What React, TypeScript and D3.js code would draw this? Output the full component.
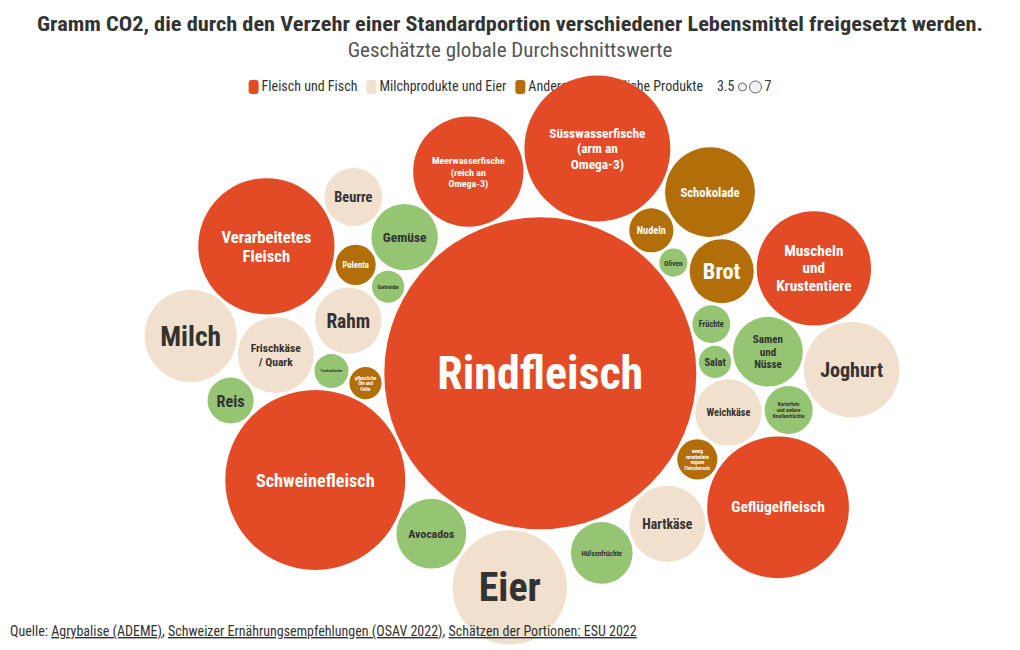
import React, { useMemo } from "react";
import * as d3 from "d3";

const FONT = "'Roboto Condensed', 'Liberation Sans Narrow', 'Arial Narrow', Roboto, sans-serif";

const categories = ["Fleisch und Fisch", "Milchprodukte und Eier", "Andere", "Pflanzliche Produkte"];
const categoryColors = ["#e24b26", "#f0e0cd", "#b26e08", "#95c572"];
const labelColors = ["#ffffff", "#333333", "#ffffff", "#333333"];

// order: largest first, then clockwise around it
const foodLabels = [
  "Rindfleisch",
  "Joghurt",
  "Salat",
  "Weichkäse",
  "Geflügelfleisch",
  "wenig\nverarbeitete\nvegane\nFleischersatz",
  "Hartkäse",
  "Hülsenfrüchte",
  "Eier",
  "Avocados",
  "Schweinefleisch",
  "Trockenfrüchte",
  "Rahm",
  "Reis",
  "Milch",
  "pflanzliche\nÖle und\nFette",
  "Getreide",
  "Polenta",
  "Frischkäse\n/ Quark",
  "Verarbeitetes\nFleisch",
  "Gemüse",
  "Beurre",
  "Meerwasserfische\n(reich an\nOmega-3)",
  "Süsswasserfische\n(arm an\nOmega-3)",
  "Nudeln",
  "Schokolade",
  "Oliven",
  "Brot",
  "Muscheln\nund\nKrustentiere",
  "Früchte",
  "Samen\nund\nNüsse",
  "Kartoffeln\nund andere\nKnollenfrüchte",
];
const foodCategory = [
  0, 1, 3, 1, 0, 2, 1, 3, 1, 3, 0, 3, 1, 3, 1, 2, 3, 2, 1, 0, 3, 1, 0, 0, 2, 2, 3, 2, 0, 3, 3, 3,
];
const foodValues = [
  3200, 300, 34, 145, 660, 53, 190, 125, 430, 160, 1065, 38, 145, 70, 280, 34, 34, 53, 190, 610, 145, 110,
  400, 700, 64, 265, 26, 135, 430, 47, 160, 76,
];

const titleText =
  "Gramm CO2, die durch den Verzehr einer Standardportion verschiedener Lebensmittel freigesetzt werden.";
const subtitleText = "Geschätzte globale Durchschnittswerte";
const sizeLegendLabels = ["3.5", "7"];
const sourcePrefix = "Quelle: ";
const sourceLinks = [
  "Agrybalise (ADEME)",
  "Schweizer Ernährungsempfehlungen (OSAV 2022)",
  "Schätzen der Portionen: ESU 2022",
];

let ctx: CanvasRenderingContext2D | null = null;
function measure(text: string, size: number, weight: string | number = "normal"): number {
  if (!ctx) ctx = document.createElement("canvas").getContext("2d");
  ctx!.font = `${weight} ${size}px ${FONT}`;
  return ctx!.measureText(text).width;
}

const W = 1020;
const H = 650;
const MAX_R = 156;
const CENTER_X = 522;
const CENTER_Y = 360;

type Node = { i: number; r: number; x: number; y: number; vx?: number; vy?: number };

export default function App() {
  const layout = useMemo(() => {
    const rScale = d3.scaleSqrt().domain([0, d3.max(foodValues) as number]).range([0, MAX_R]);
    const nodes: Node[] = foodValues.map((v, i) => ({ i, r: rScale(v), x: 0, y: 0 }));
    const others = nodes.slice(1);
    const sumD = d3.sum(others, (d) => 2 * d.r);
    let cum = 0;
    const offset = (2 * Math.PI * others[0].r) / sumD;
    others.forEach((d) => {
      const a = (2 * Math.PI * (cum + d.r)) / sumD - offset;
      cum += 2 * d.r;
      const dist = nodes[0].r + d.r + 4;
      d.x = dist * Math.cos(a);
      d.y = dist * Math.sin(a);
    });
    const sim = d3
      .forceSimulation(nodes as any)
      .alphaDecay(0.01)
      .velocityDecay(0.3)
      .force("collide", d3.forceCollide((d: any) => d.r + 1.5).strength(1).iterations(6))
      .force("x", d3.forceX(0).strength(0.06))
      .force("y", d3.forceY(0).strength(0.14))
      .stop();
    for (let k = 0; k < 900; k++) sim.tick();
    const x0 = d3.min(nodes, (d) => d.x - d.r) as number;
    const x1 = d3.max(nodes, (d) => d.x + d.r) as number;
    const y0 = d3.min(nodes, (d) => d.y - d.r) as number;
    const y1 = d3.max(nodes, (d) => d.y + d.r) as number;
    const dx = CENTER_X - (x0 + x1) / 2;
    const dy = CENTER_Y - (y0 + y1) / 2;
    return nodes.map((d) => {
      const lines = foodLabels[d.i].split("\n");
      const maxW = d3.max(lines, (l) => measure(l, 10, "bold")) as number;
      const fsW = (0.66 * 2 * d.r) / (maxW / 10);
      const fsH = (0.55 * 2 * d.r) / (lines.length * 1.15);
      const fs = Math.min(fsW, fsH, 0.7 * d.r);
      return { ...d, x: d.x + dx, y: d.y + dy, lines, fs };
    });
  }, []);

  // legend layout
  const legendFs = 14;
  const legendItems: { x: number; label: string; color: string }[] = [];
  let lx = 0;
  categories.forEach((c, i) => {
    legendItems.push({ x: lx, label: c, color: categoryColors[i] });
    lx += 13 + measure(c, legendFs) + 9;
  });
  const sizeStart = lx + 5;
  const w35 = measure(sizeLegendLabels[0], legendFs);
  const w7 = measure(sizeLegendLabels[1], legendFs);
  const totalLegend = sizeStart + w35 + 4 + 8 + 3 + 12 + 3 + w7;
  const legendX = W / 2 - totalLegend / 2;
  const legendY = 91;

  return (
    <svg
      width={W}
      height={H}
      style={{ position: "absolute", left: 0, top: 0, background: "#fff", fontFamily: FONT }}
    >
      <text x={W / 2} y={31} textAnchor="middle" fontSize={21} fontWeight="bold" fill="#333"
        textLength={946} lengthAdjust="spacingAndGlyphs">
        {titleText}
      </text>
      <text x={W / 2} y={57} textAnchor="middle" fontSize={21} fill="#555">
        {subtitleText}
      </text>
      <g transform={`translate(${legendX},${legendY})`}>
        {legendItems.map((it) => (
          <g key={it.label}>
            <rect x={it.x} y={-11} width={10} height={14} rx={3} fill={it.color} />
            <text x={it.x + 13} y={0} fontSize={legendFs} fill="#333">
              {it.label}
            </text>
          </g>
        ))}
        <text x={sizeStart} y={0} fontSize={legendFs} fill="#333">
          {sizeLegendLabels[0]}
        </text>
        <circle cx={sizeStart + w35 + 4 + 4} cy={-4} r={4} fill="#f2f2f2" stroke="#666" strokeWidth={1} />
        <circle cx={sizeStart + w35 + 4 + 8 + 3 + 6} cy={-4} r={6} fill="#f2f2f2" stroke="#666" strokeWidth={1} />
        <text x={sizeStart + w35 + 4 + 8 + 3 + 12 + 3} y={0} fontSize={legendFs} fill="#333">
          {sizeLegendLabels[1]}
        </text>
      </g>
      <g>
        {layout.map((d) => (
          <circle key={d.i} cx={d.x} cy={d.y} r={d.r} fill={categoryColors[foodCategory[d.i]]} />
        ))}
        {layout.map((d) => {
          const lh = d.fs * 1.15;
          const top = d.y - ((d.lines.length - 1) * lh) / 2;
          return (
            <text
              key={"t" + d.i}
              textAnchor="middle"
              fontWeight="bold"
              fontSize={d.fs}
              fill={labelColors[foodCategory[d.i]]}
              dominantBaseline="central"
            >
              {d.lines.map((l, k) => (
                <tspan key={k} x={d.x} y={top + k * lh}>
                  {l}
                </tspan>
              ))}
            </text>
          );
        })}
      </g>
      <text x={10} y={636} fontSize={14} fill="#333">
        <tspan>{sourcePrefix}</tspan>
        {sourceLinks.map((s, i) => (
          <React.Fragment key={s}>
            <tspan style={{ textDecoration: "underline" }}>{s}</tspan>
            {i < sourceLinks.length - 1 ? <tspan>{", "}</tspan> : null}
          </React.Fragment>
        ))}
      </text>
    </svg>
  );
}
